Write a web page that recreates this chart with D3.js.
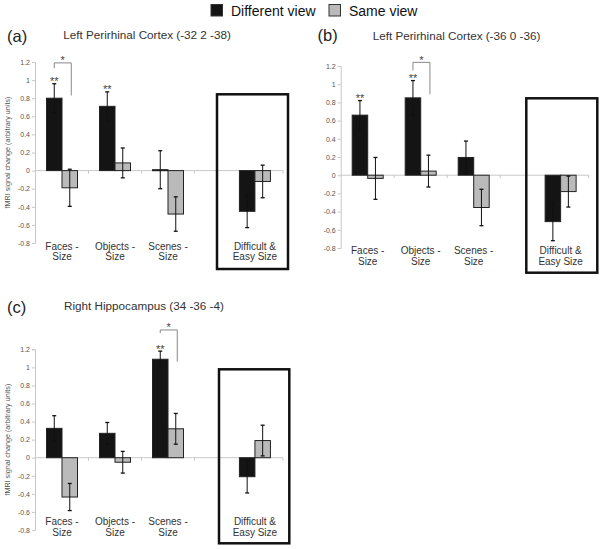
<!DOCTYPE html>
<html><head><meta charset="utf-8">
<script src="https://cdn.jsdelivr.net/npm/d3@7"></script>
<style>
html,body{margin:0;padding:0;background:#fff;}
svg{display:block;font-family:Arial,"Liberation Sans",sans-serif;}
</style></head>
<body><svg id="chart" width="601" height="549"></svg>
<script>
// ---------- data ----------
const categories = ["Faces - Size", "Objects - Size", "Scenes - Size", "Difficult & Easy Size"];
const categoryLines = [["Faces -", "Size"], ["Objects -", "Size"], ["Scenes -", "Size"], ["Difficult &", "Easy Size"]];
const seriesNames = ["Different view", "Same view"];
const tickValues = [-0.8, -0.6, -0.4, -0.2, 0, 0.2, 0.4, 0.6, 0.8, 1, 1.2];
const tickLabels = ["-0.8", "-0.6", "-0.4", "-0.2", "0", "0.2", "0.4", "0.6", "0.8", "1", "1.2"];
const yLabel = "fMRI signal change (arbitrary units)";

// (a) Left Perirhinal Cortex (-32 2 -38)
const aDifferent = [0.80, 0.71, 0.01, -0.45];
const aDifferentErr = [0.16, 0.16, 0.21, 0.18];
const aSame = [-0.19, 0.085, -0.48, -0.12];
const aSameErr = [0.205, 0.165, 0.19, 0.18];
const aDoubleStar = [0, 1];
const aBracket = {cat: 0, top: 1.19, left: 1.13, right: 0.83};

// (b) Left Perirhinal Cortex (-36 0 -36)
const bDifferent = [0.66, 0.85, 0.195, -0.51];
const bDifferentErr = [0.16, 0.19, 0.18, 0.21];
const bSame = [-0.035, 0.045, -0.355, -0.18];
const bSameErr = [0.23, 0.175, 0.2, 0.17];
const bDoubleStar = [0, 1];
const bBracket = {cat: 1, top: 1.24, left: 1.15, right: 0.89};

// (c) Right Hippocampus (34 -36 -4)
const cDifferent = [0.325, 0.27, 1.09, -0.21];
const cDifferentErr = [0.14, 0.12, 0.09, 0.18];
const cSame = [-0.435, -0.05, 0.32, 0.19];
const cSameErr = [0.15, 0.12, 0.17, 0.17];
const cDoubleStar = [2];
const cBracket = {cat: 2, top: 1.414, left: 1.38, right: 1.063};

// ---------- layout ----------
const slots = [0, 1, 2, 3.64];
const panels = [
  {tag: "(a)", title: "Left Perirhinal Cortex (-32 2 -38)", diff: aDifferent, diffErr: aDifferentErr, same: aSame, sameErr: aSameErr,
   stars: aDoubleStar, bracket: aBracket,
   axisX: 35, yTop: 62, yBot: 243, tagPos: [7, 41.5], titlePos: [63.3, 39.3], lab1: 249.5, lab2: 260,
   box: [217, 94.3, 288, 269], yLabelX: 10},
  {tag: "(b)", title: "Left Perirhinal Cortex (-36 0 -36)", diff: bDifferent, diffErr: bDifferentErr, same: bSame, sameErr: bSameErr,
   stars: bDoubleStar, bracket: bBracket,
   axisX: 340.7, yTop: 66, yBot: 248, tagPos: [317.5, 40.5], titlePos: [372.7, 40], lab1: 253.5, lab2: 264.5,
   box: [526.3, 98.3, 597.3, 272.7], yLabelX: null},
  {tag: "(c)", title: "Right Hippocampus (34 -36 -4)", diff: cDifferent, diffErr: cDifferentErr, same: cSame, sameErr: cSameErr,
   stars: cDoubleStar, bracket: cBracket,
   axisX: 35, yTop: 349.3, yBot: 530, tagPos: [7, 313], titlePos: [64, 310], lab1: 524.5, lab2: 535.5,
   box: [219, 369.3, 289.3, 543.3], yLabelX: 10}
];

const svg = d3.select("#chart");
const colDiff = "#141414", colSame = "#bababa";

panels.forEach(p => {
  const g = svg.append("g");
  const y = d3.scaleLinear().domain([-0.8, 1.2]).range([p.yBot, p.yTop]);
  const x = d3.scaleLinear().domain([0, 1]).range([p.axisX + 27, p.axisX + 80]);
  const sub = d3.scaleBand().domain(seriesNames).range([-15.5, 15.5]);
  const cx = i => x(slots[i]);

  // titles
  g.append("text").attr("x", p.tagPos[0]).attr("y", p.tagPos[1]).attr("font-size", 16.5).attr("fill", "#222").text(p.tag);
  g.append("text").attr("x", p.titlePos[0]).attr("y", p.titlePos[1]).attr("font-size", 11.7).attr("fill", "#333").text(p.title);

  // y axis
  const ax = g.append("g").attr("transform", `translate(${p.axisX},0)`)
    .call(d3.axisLeft(y).tickValues(tickValues).tickFormat((d, i) => tickLabels[i]).tickSize(3).tickPadding(2));
  ax.select(".domain").attr("stroke", "#c8c8c8");
  ax.selectAll(".tick line").attr("stroke", "#c8c8c8");
  ax.selectAll(".tick text").attr("font-size", 7).attr("fill", "#555").attr("font-family", "Arial, 'Liberation Sans', sans-serif");

  // y label
  if (p.yLabelX !== null) {
    g.append("text").attr("transform", `translate(${p.yLabelX},${(p.yTop + p.yBot) / 2}) rotate(-90)`)
      .attr("text-anchor", "middle").attr("font-size", 7.2).attr("fill", "#555").text(yLabel);
  }

  // zero line
  const zeroEnd = p.axisX + 248;
  g.append("line").attr("x1", p.axisX).attr("x2", zeroEnd).attr("y1", y(0)).attr("y2", y(0)).attr("stroke", "#c8c8c8");
  [0.5, 1.5, 2.5].map(s => x(s)).concat([zeroEnd]).forEach(t => {
    g.append("line").attr("x1", t).attr("x2", t).attr("y1", y(0)).attr("y2", y(0) + 3).attr("stroke", "#c8c8c8");
  });

  // box
  g.append("rect").attr("x", p.box[0]).attr("y", p.box[1]).attr("width", p.box[2] - p.box[0]).attr("height", p.box[3] - p.box[1])
    .attr("fill", "none").attr("stroke", "#111").attr("stroke-width", 2.5);

  // bars
  const rows = categories.map((c, i) => [
    {s: seriesNames[0], i, v: p.diff[i], e: p.diffErr[i], fill: colDiff},
    {s: seriesNames[1], i, v: p.same[i], e: p.sameErr[i], fill: colSame}
  ]).flat();
  g.selectAll("rect.bar").data(rows).join("rect").attr("class", "bar")
    .attr("x", d => cx(d.i) + sub(d.s)).attr("width", sub.bandwidth())
    .attr("y", d => Math.min(y(d.v), y(0))).attr("height", d => Math.max(1, Math.abs(y(d.v) - y(0))))
    .attr("fill", d => d.fill).attr("stroke", "#222").attr("stroke-width", 1);

  // error bars
  rows.forEach(d => {
    const xm = cx(d.i) + sub(d.s) + sub.bandwidth() / 2;
    const y1 = y(d.v + d.e), y2 = y(d.v - d.e);
    g.append("line").attr("x1", xm).attr("x2", xm).attr("y1", y1).attr("y2", y2).attr("stroke", "#111").attr("stroke-width", 1);
    [y1, y2].forEach(yy => g.append("line").attr("x1", xm - 2).attr("x2", xm + 2).attr("y1", yy).attr("y2", yy).attr("stroke", "#111").attr("stroke-width", 1.3));
  });

  // ** markers
  p.stars.forEach(i => {
    const xm = cx(i) + sub(seriesNames[0]) + sub.bandwidth() / 2;
    g.append("text").attr("x", xm).attr("y", y(p.diff[i] + p.diffErr[i]) + 1.5).attr("text-anchor", "middle")
      .attr("font-size", 11).attr("fill", "#444").text("**");
  });

  // bracket with *
  const b = p.bracket;
  const xl = cx(b.cat) + sub(seriesNames[0]) + sub.bandwidth() / 2;
  const xr = cx(b.cat) + sub(seriesNames[1]) + sub.bandwidth() / 2 + 1.5;
  g.append("path").attr("d", `M${xl},${y(b.left)}V${y(b.top)}H${xr}V${y(b.right)}`)
    .attr("fill", "none").attr("stroke", "#888").attr("stroke-width", 1);
  g.append("text").attr("x", (xl + xr) / 2).attr("y", y(b.top) + 1.5).attr("text-anchor", "middle")
    .attr("font-size", 11).attr("fill", "#444").text("*");

  // category labels
  categoryLines.forEach((lines, i) => {
    g.append("text").attr("x", cx(i)).attr("y", p.lab1).attr("text-anchor", "middle").attr("font-size", 10).attr("fill", "#333").text(lines[0]);
    g.append("text").attr("x", cx(i)).attr("y", p.lab2).attr("text-anchor", "middle").attr("font-size", 10).attr("fill", "#333").text(lines[1]);
  });
});

// legend
const leg = svg.append("g");
const legX = [211, 329];
seriesNames.forEach((s, i) => {
  leg.append("rect").attr("x", legX[i]).attr("y", 4.5).attr("width", 11.5).attr("height", 11.5)
    .attr("fill", i === 0 ? colDiff : colSame).attr("stroke", "#333").attr("stroke-width", 1);
  leg.append("text").attr("x", legX[i] + 20).attr("y", 15.5).attr("font-size", 14).attr("fill", "#111").text(s);
});
</script></body></html>
